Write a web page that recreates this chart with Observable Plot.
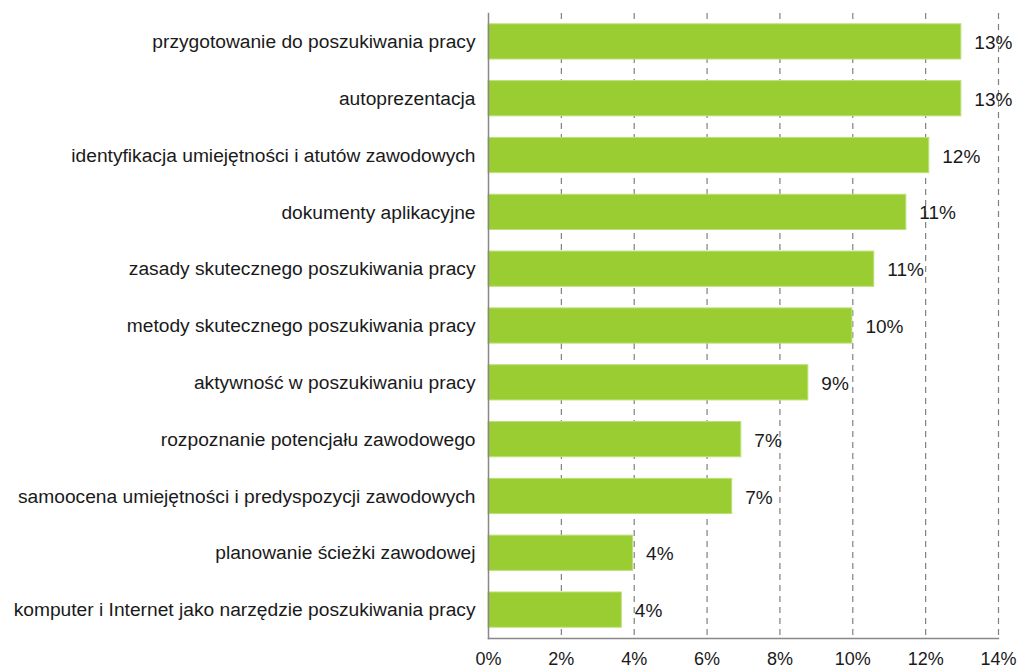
<!DOCTYPE html>
<html>
<head>
<meta charset="utf-8">
<script src="https://cdn.jsdelivr.net/npm/d3@7"></script>
<script src="https://cdn.jsdelivr.net/npm/@observablehq/plot@0.6"></script>
<style>
  html, body { margin: 0; padding: 0; background: #fff; }
  #chart svg { display: block; }
</style>
</head>
<body>
<div id="chart"></div>
<script>
const categories = [
  "przygotowanie do poszukiwania pracy",
  "autoprezentacja",
  "identyfikacja umiejętności i atutów zawodowych",
  "dokumenty aplikacyjne",
  "zasady skutecznego poszukiwania pracy",
  "metody skutecznego poszukiwania pracy",
  "aktywność w poszukiwaniu pracy",
  "rozpoznanie potencjału zawodowego",
  "samoocena umiejętności i predyspozycji zawodowych",
  "planowanie ścieżki zawodowej",
  "komputer i Internet jako narzędzie poszukiwania pracy"
];
const values = [12.98, 12.98, 12.1, 11.47, 10.59, 9.99, 8.78, 6.94, 6.69, 3.97, 3.66];
const valueLabels = ["13%", "13%", "12%", "11%", "11%", "10%", "9%", "7%", "7%", "4%", "4%"];
const xTicks = [0, 2, 4, 6, 8, 10, 12, 14];
const gridTicks = [2, 4, 6, 8, 10, 12, 14];

const data = categories.map((c, i) => ({cat: c, value: values[i], label: valueLabels[i]}));

const chart = Plot.plot({
  width: 1021,
  height: 671,
  marginLeft: 488,
  marginRight: 23,
  marginTop: 13,
  marginBottom: 33,
  style: {fontFamily: "'Liberation Sans', Arial, sans-serif", fontSize: "19px", color: "#1a1a1a", background: "#fff"},
  x: {domain: [0, 14], label: null},
  y: {domain: categories, paddingInner: 0.38, paddingOuter: 0.19, round: false, label: null},
  marks: [
    Plot.gridX(gridTicks, {stroke: "#808080", strokeOpacity: 1, strokeWidth: 1.2, strokeDasharray: "6,5"}),
    Plot.barX(data, {x: "value", y: "cat", fill: "#9acd32", stroke: "#bde07a", strokeWidth: 1}),
    Plot.text(data, {x: "value", y: "cat", text: "label", textAnchor: "start", dx: 13, dy: 1, fontSize: 19, fill: "#1a1a1a"}),
    Plot.axisX(xTicks, {tickSize: 0, tickPadding: 14, tickFormat: d => d + "%", label: null, fontSize: 18}),
    Plot.axisY({tickSize: 0, tickPadding: 13, label: null, fontSize: 19.2}),
    Plot.frame({anchor: "bottom", stroke: "#888", strokeWidth: 1.5}),
    Plot.frame({anchor: "left", stroke: "#888", strokeWidth: 1.5})
  ]
});
document.getElementById("chart").appendChild(chart);
</script>
</body>
</html>
